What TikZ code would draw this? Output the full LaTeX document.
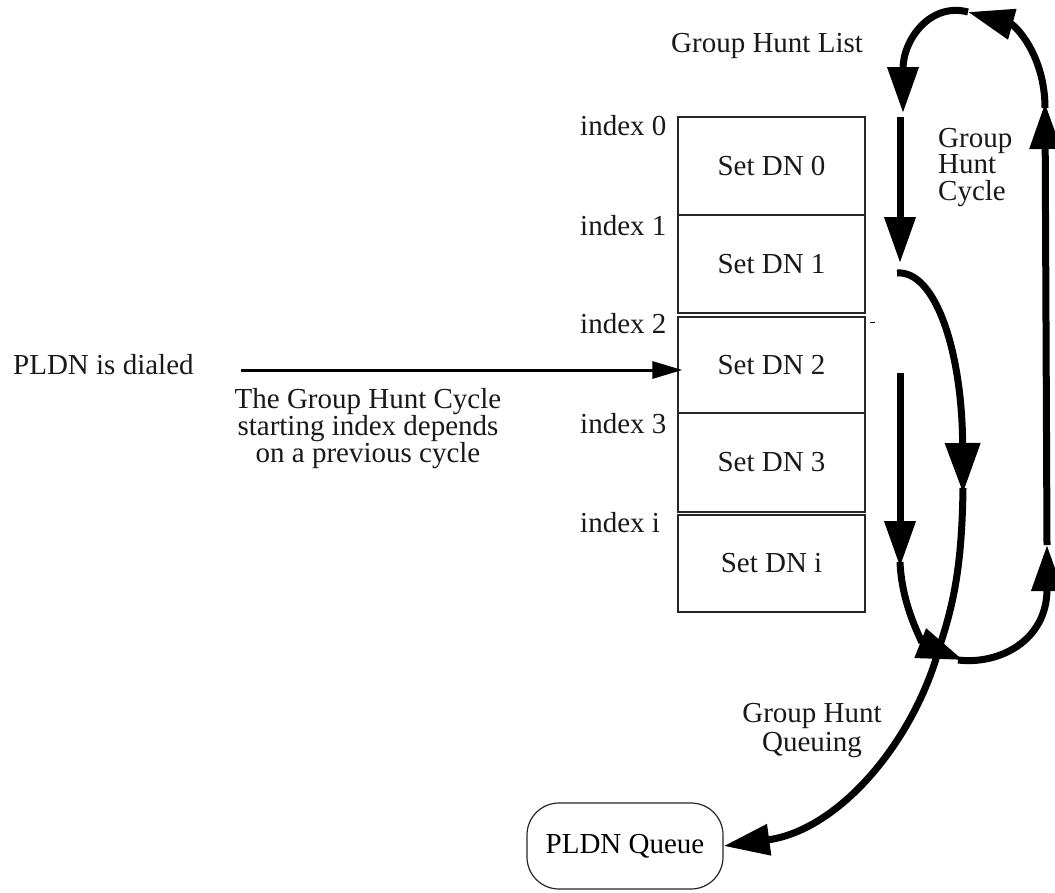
\documentclass[tikz,border=0pt]{standalone}
\usepackage{fontspec}
\setmainfont{Liberation Serif}
\usetikzlibrary{arrows.meta}
\begin{document}
\begin{tikzpicture}[x=1pt,y=-1pt,
  txt/.style={inner sep=0pt, font=\fontsize{29}{24}\selectfont, text=black!90},
  cell/.style={draw=black!85, line width=1.3pt, minimum width=187pt, inner sep=0pt, font=\fontsize{29}{24}\selectfont, text=black!90},
  bigarrow/.style={line width=7pt, -{Triangle[length=46pt,width=30pt]}},
  widearrow/.style={line width=7pt, -{Triangle[length=50pt,width=34pt]}},
  thinarrow/.style={line width=3pt, -{Triangle[length=30pt,width=17pt]}}]
\fill[white] (0,0) rectangle (1055,892);
\useasboundingbox (0,0) rectangle (1055,892);

% title
\node[txt, anchor=base west] (title) at (671,52) {Group Hunt List};

% cells
\node[cell, minimum height=98pt] (b0) at (771.5,166) {Set DN 0};
\node[cell, minimum height=98pt] (b1) at (771.5,264) {Set DN 1};
\node[cell, minimum height=96pt] (b2) at (771.5,365) {Set DN 2};
\node[cell, minimum height=99pt] (b3) at (771.5,462.5) {Set DN 3};
\node[cell, minimum height=97pt] (bi) at (771.5,563.5) {Set DN i};

% index labels
\node[txt, anchor=base west] (i0) at (580,135) {index 0};
\node[txt, anchor=base west] (i1) at (580,235) {index 1};
\node[txt, anchor=base west] (i2) at (580,333) {index 2};
\node[txt, anchor=base west] (i3) at (580,433) {index 3};
\node[txt, anchor=base west] (ii) at (580,532) {index i};

% tiny tick
\draw[line width=1pt] (870,322) -- (875,322);

% PLDN dialed
\node[txt, anchor=base west] (dial) at (13,374) {PLDN is dialed};
\coordinate (dstart) at (241,370);
\draw[thinarrow, shorten >=-5pt] (dstart) -- (b2.west |- dstart);
\node[txt, anchor=north, align=center, font=\fontsize{29}{27}\selectfont] (note) at (368,388) {The Group Hunt Cycle\\starting index depends\\on a previous cycle};

% Group Hunt Cycle label
\node[txt, anchor=north west, align=left, font=\fontsize{29}{26.5}\selectfont] (cyc) at (938,128) {Group\\Hunt\\Cycle};

% Group Hunt Queuing label
\node[txt, anchor=north, align=center, font=\fontsize{29}{29}\selectfont] (que) at (812,703) {Group Hunt\\Queuing};

% PLDN Queue
\node[draw=black!85, line width=1.2pt, rounded corners=32pt, minimum width=196pt, minimum height=86pt, inner sep=0pt, font=\fontsize{29}{24}\selectfont] (queue) at (625,846) {PLDN Queue};

% loop coordinates
\coordinate (rb) at (1047,545);
\coordinate (rt) at (1045,103);
\coordinate (ta) at (968,12);
\coordinate (lt) at (903,113);
\coordinate (l1a) at (900,117);
\coordinate (l1b) at (900,263);
\coordinate (s1) at (897,273);
\coordinate (m1) at (963,493);
\coordinate (xc) at (940,645);
\coordinate (l2a) at (900,373);
\coordinate (l2b) at (900,567);
\coordinate (bt) at (963,660);

% right vertical up
\draw[bigarrow] (rb) -- (rt);
% top arc
\draw[bigarrow] (1045,108) .. controls (1045,55) and (1015,25) .. (ta);
\draw[bigarrow] (ta) .. controls (930,2) and (903,40) .. (lt);
% left vertical 1
\draw[bigarrow] (l1a) -- (l1b);
% curve from Set DN 1
\draw[widearrow] (s1) .. controls (935,270) and (962,350) .. (m1);
% on to queue
\draw[bigarrow] (963,488) .. controls (962,560) and (955,600) .. (xc) .. controls (915,740) and (840,830) .. (queue.east);
% left vertical 2
\draw[bigarrow] (l2a) -- (l2b);
\draw[bigarrow] (900,562) .. controls (902,610) and (925,645) .. (bt);
% bottom arc
\draw[bigarrow] (958,660) .. controls (1000,665) and (1047,640) .. (rb);
\end{tikzpicture}
\end{document}
